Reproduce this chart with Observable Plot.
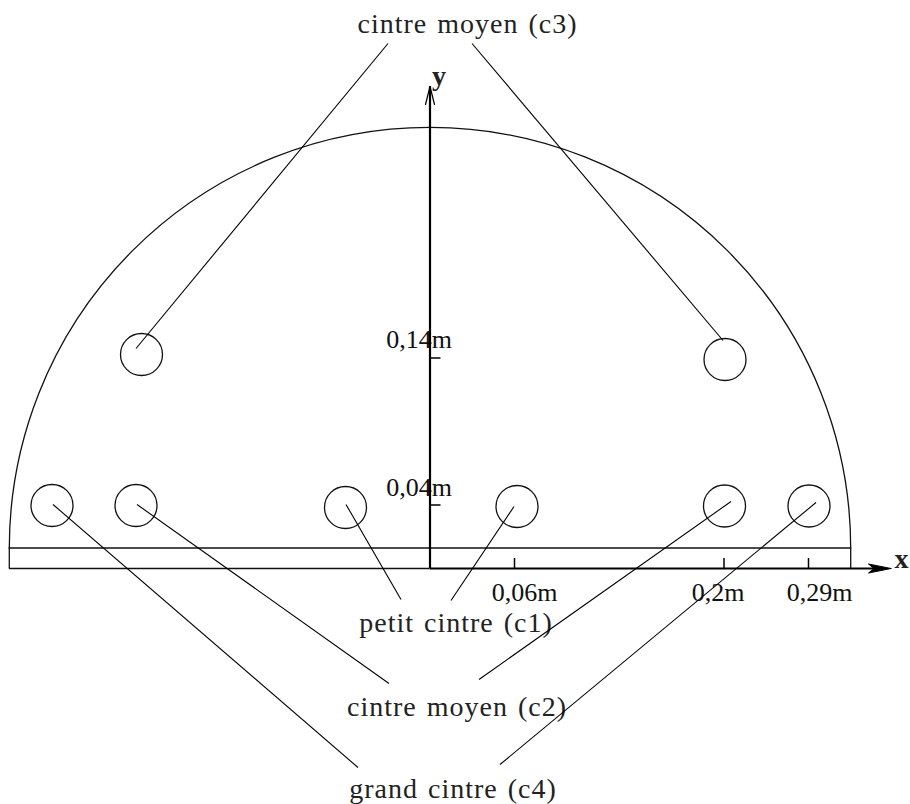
<!DOCTYPE html>
<html>
<head>
<meta charset="utf-8">
<script src="https://cdn.jsdelivr.net/npm/d3@7"></script>
<script src="https://cdn.jsdelivr.net/npm/@observablehq/plot@0.6"></script>
<style>
html,body{margin:0;padding:0;background:#fff}
svg{display:block}
g[font-size="28"]{letter-spacing:1px;word-spacing:2px}
</style>
</head>
<body>
<div id="chart"></div>
<script>
// Drawing units: origin at the crossing of the x and y axes.
const holeX = [-378, -294, -84.5, 87, 294.5, 379, -288.5, 295];
const holeY = [63, 63, 61, 62, 62.5, 62.5, 214, 209];

const leaderNames = ["c3a","c3b","c1a","c1b","c2a","c2b","c4a","c4b"];
const leaderX1 = [-42, 42, -29, 21, -41, 49, -72, 70];
const leaderY1 = [525, 525, -31, -32, -115, -111, -199, -196];
const leaderX2 = [-294, 293, -84, 84, -293, 301, -377, 386];
const leaderY2 = [220, 228, 64, 62, 64, 67, 64, 66];

const labels = ["cintre moyen (c3)", "petit cintre (c1)", "cintre moyen (c2)", "grand cintre (c4)"];
const labelX = [37.5, 26, 27, 23];
const labelY = [544, -55, -139, -220.5];

const xTicks = [84.5, 294, 378.5];
const xTickLabels = ["0,06m", "0,2m", "0,29m"];
const xTickLabelX = [94.5, 288, 389.5];
const yTicks = [210.5, 63.5];
const yTickLabels = ["0,14m", "0,04m"];
const yTickLabelY = [228.5, 81.3];

const shellHalfWidth = 420.7;
const shellFlange = 20.5;
const axisXEnd = 445;
const axisYEnd = 482;
const xHeadX = [461, 438.5, 444, 438.5, 461];
const xHeadY = [0, 4.5, 0, -4.5, 0];
const yHeadX = [-4.5, 0, 4.5];
const yHeadY = [464, 482, 464];

const thin = {stroke: "#111", strokeWidth: 1.3};
const holes = holeX.map((x, i) => ({x, y: holeY[i]}));
const leaders = leaderNames.map((name, i) => ({name, x1: leaderX1[i], y1: leaderY1[i], x2: leaderX2[i], y2: leaderY2[i]}));
const labelRows = labels.map((text, i) => ({text, x: labelX[i], y: labelY[i]}));
const xHead = xHeadX.map((x, i) => ({x, y: xHeadY[i]}));
const yHead = yHeadX.map((x, i) => ({x, y: yHeadY[i]}));

const chart = Plot.plot({
  width: 910,
  height: 804,
  margin: 0,
  style: {background: "#fff"},
  x: {type: "linear", domain: [-429.5, 480.5], range: [0, 910], axis: null},
  y: {type: "linear", domain: [-236, 568], range: [804, 0], axis: null},
  marks: [
    Plot.text(labelRows, {x: "x", y: "y", text: "text", fontFamily: "Liberation Serif", fontSize: 28, fill: "#222"}),
    Plot.text(xTickLabels, {x: (d, i) => xTickLabelX[i], y: () => -24, text: d => d, fontFamily: "Liberation Serif", fontSize: 26, fill: "#111"}),
    Plot.text(yTickLabels, {x: () => -11, y: (d, i) => yTickLabelY[i], text: d => d, fontFamily: "Liberation Serif", fontSize: 26, fill: "#111"}),
    Plot.arrow([{x1: -shellHalfWidth, x2: shellHalfWidth, y: shellFlange}], {x1: "x1", x2: "x2", y1: "y", y2: "y", bend: 90, headLength: 0, ...thin}),
    Plot.ruleY([shellFlange], {x1: -shellHalfWidth, x2: shellHalfWidth, ...thin}),
    Plot.ruleY([0], {x1: -shellHalfWidth, x2: 0, ...thin}),
    Plot.ruleX([-shellHalfWidth, shellHalfWidth], {y1: 0, y2: shellFlange, ...thin}),
    Plot.dot(holes, {x: "x", y: "y", r: 21, ...thin, fill: "none"}),
    Plot.link(leaders, {x1: "x1", y1: "y1", x2: "x2", y2: "y2", stroke: "#000", strokeWidth: 1.1}),
    Plot.ruleY([0], {x1: 0, x2: axisXEnd, stroke: "#000", strokeWidth: 2.2}),
    Plot.ruleX([0], {y1: 0, y2: axisYEnd, stroke: "#000", strokeWidth: 2.2}),
    Plot.ruleX(xTicks, {y1: 0, y2: 10, stroke: "#000", strokeWidth: 1.5}),
    Plot.ruleY(yTicks, {x1: 0, x2: 11, stroke: "#000", strokeWidth: 1.5}),
    Plot.line(xHead, {x: "x", y: "y", fill: "#000", stroke: "#000", strokeWidth: 1}),
    Plot.line(yHead, {x: "x", y: "y", stroke: "#000", strokeWidth: 1.2}),
    Plot.text(["x"], {x: () => 472, y: () => 9, text: d => d, fontFamily: "Liberation Serif", fontWeight: "bold", fontSize: 28, fill: "#222"}),
    Plot.text(["y"], {x: () => 9.5, y: () => 492, text: d => d, fontFamily: "Liberation Serif", fontWeight: "bold", fontSize: 28, fill: "#222"})
  ]
});
document.getElementById("chart").appendChild(chart);
</script>
</body>
</html>
